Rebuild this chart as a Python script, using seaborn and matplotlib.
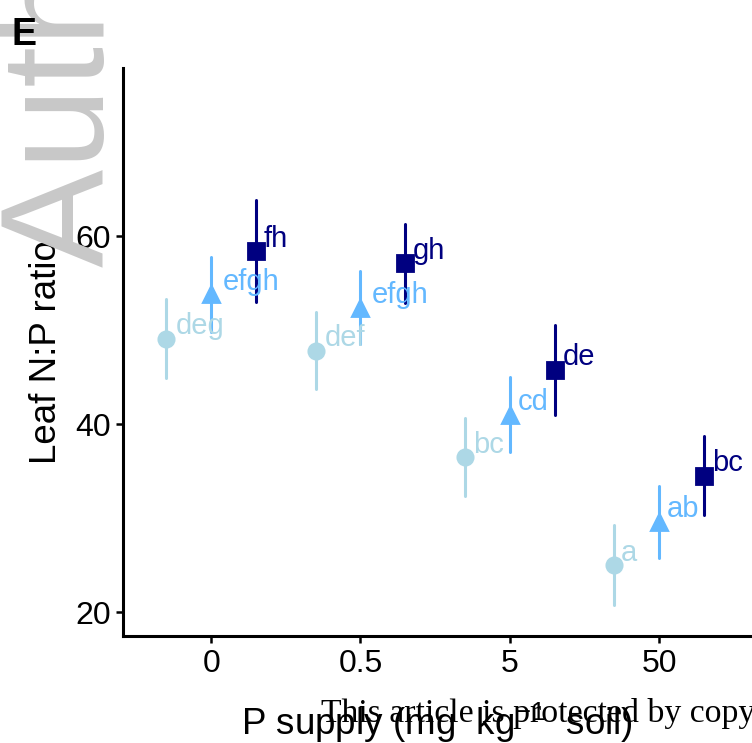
import matplotlib
matplotlib.use("Agg")
import matplotlib.pyplot as plt
import numpy as np
import pandas as pd
import seaborn as sns

# ---- data ----
supply = ["0", "0.5", "5", "50"]
groups = ["G1", "G2", "G3"]
mean_g1 = [49.1, 47.8, 36.5, 25.0]
err_g1 = [4.2, 4.1, 4.2, 4.3]
mean_g2 = [53.8, 52.4, 41.0, 29.6]
err_g2 = [4.0, 3.9, 4.0, 3.8]
mean_g3 = [58.4, 57.1, 45.8, 34.5]
err_g3 = [5.4, 4.2, 4.8, 4.2]
letters_g1 = ["deg", "def", "bc", "a"]
letters_g2 = ["efgh", "efgh", "cd", "ab"]
letters_g3 = ["fh", "gh", "de", "bc"]
colors = ["#ADD8E6", "#63B8FF", "#000080"]
markers = ["o", "^", "s"]

means = [mean_g1, mean_g2, mean_g3]
errs = [err_g1, err_g2, err_g3]
letters = [letters_g1, letters_g2, letters_g3]

rows = []
for g, m_list, e_list in zip(groups, means, errs):
    for s, m, e in zip(supply, m_list, e_list):
        rows.append({"supply": s, "group": g, "value": m - e})
        rows.append({"supply": s, "group": g, "value": m + e})
df = pd.DataFrame(rows)

sns.set_style("ticks")
plt.rcParams["font.family"] = ["Liberation Sans", "DejaVu Sans"]
plt.rcParams["mathtext.fontset"] = "custom"
plt.rcParams["mathtext.rm"] = "Liberation Sans"
plt.rcParams["mathtext.it"] = "Liberation Sans:italic"
plt.rcParams["text.color"] = "black"
plt.rcParams["axes.labelcolor"] = "black"

fig = plt.figure(figsize=(7.52, 7.43), dpi=100)

# watermark behind everything
fig.text(0.178, 0.640, "Author Manuscript", rotation=90, fontsize=106,
         color="#c8c8c8", ha="right", va="bottom", zorder=0)

ax = fig.add_axes([0.1636, 0.144, 0.834, 0.7645])
ax.patch.set_alpha(0)

dodge = 0.6
sns.pointplot(data=df, x="supply", y="value", hue="group", order=supply,
              hue_order=groups, palette=colors, markers=markers,
              linestyles="none", dodge=dodge, estimator="mean",
              errorbar=lambda v: (v.min(), v.max()), err_kws={"linewidth": 2.2},
              markersize=11, legend=False, ax=ax)

n = len(groups)
offsets = np.linspace(-dodge / 2, dodge / 2, n)
for j in range(n):
    for i, s in enumerate(supply):
        lab = letters[j][i]
        ax.annotate(lab, (i + offsets[j], means[j][i]),
                    xytext=(3 + 1.3 * len(lab), 9), textcoords="offset points",
                    ha="left", va="center", color=colors[j], fontsize=21)

ax.set_xlim(-0.59, 3.61)
ax.set_ylim(17.45, 77.9)
ax.set_yticks([20, 40, 60])
ax.set_xlabel(r"P supply (mg  kg$^{-1}$  soil)", fontsize=26.5, labelpad=16,
              color="black")
ax.set_ylabel("Leaf N:P ratio", fontsize=26.5, labelpad=8, color="black")
ax.tick_params(axis="both", labelsize=23, length=5, width=1.8, colors="black", pad=4)
for side in ["top", "right"]:
    ax.spines[side].set_visible(False)
for side in ["left", "bottom"]:
    ax.spines[side].set_linewidth(2.2)
    ax.spines[side].set_color("black")

fig.text(0.015, 0.928, "E", fontsize=27, fontweight="bold", color="black",
         ha="left", va="bottom")

fig.text(0.427, 0.028, "This article is protected by copyright. All rights reserved",
         fontsize=24.3, family=["Liberation Serif", "DejaVu Serif"], color="black",
         ha="left", va="baseline", zorder=10)

fig.savefig("out.png", dpi=100)
